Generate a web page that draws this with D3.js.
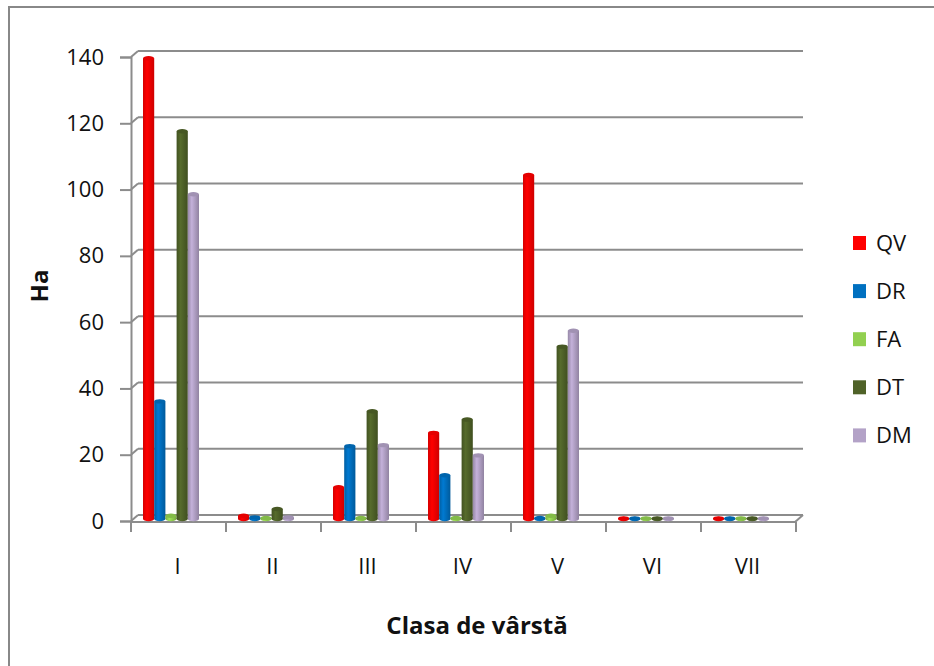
<!DOCTYPE html>
<html>
<head>
<meta charset="utf-8">
<script src="https://cdn.jsdelivr.net/npm/d3@7"></script>
<style>
  body { margin: 0; background: #fff; }
  text { font-family: "Open Sans", Carlito, Lato, sans-serif; fill: #111; }
</style>
</head>
<body>
<div id="chart"></div>
<script>
// data
var categories = ["I", "II", "III", "IV", "V", "VI", "VII"];
var seriesNames = ["QV", "DR", "FA", "DT", "DM"];
var QV = [139, 1, 9.6, 26, 103.8, 0.2, 0.2];
var DR = [35.5, 0.5, 22, 13.2, 0.3, 0.2, 0.2];
var FA = [1, 0.3, 0.3, 0.3, 1, 0.2, 0.2];
var DT = [117, 3, 32.5, 30, 52, 0.2, 0.2];
var DM = [98, 0.5, 22.3, 19.2, 56.8, 0.2, 0.2];
var yTicks = [0, 20, 40, 60, 80, 100, 120, 140];
var colors = ["#ff0000", "#0070c0", "#92d050", "#4f6228", "#b3a2c7"];

var series = [QV, DR, FA, DT, DM];

var width = 934, height = 666;
var dx = 8, dy = -6; // depth offset of the back wall

var svg = d3.select("#chart").append("svg")
    .attr("width", width)
    .attr("height", height);

// outer frame (only left + top visible)
svg.append("path")
    .attr("d", "M9,666 L9,7 L934,7")
    .attr("fill", "none")
    .attr("stroke", "#888")
    .attr("stroke-width", 2);

var x = d3.scaleBand()
    .domain(categories)
    .range([130, 795])
    .padding(0);

var y = d3.scaleLinear()
    .domain([0, 140])
    .range([521, 57]);

// gradients for the cylinders
var defs = svg.append("defs");
colors.forEach(function (c, i) {
  var g = defs.append("linearGradient")
      .attr("id", "grad" + i)
      .attr("x1", "0%").attr("x2", "100%")
      .attr("y1", "0%").attr("y2", "0%");
  g.append("stop").attr("offset", "0%").attr("stop-color", d3.color(c).darker(0.5));
  g.append("stop").attr("offset", "35%").attr("stop-color", d3.color(c).brighter(0.25));
  g.append("stop").attr("offset", "100%").attr("stop-color", d3.color(c).darker(0.6));
});

var grid = svg.append("g");

// back gridlines with depth diagonals
yTicks.forEach(function (t) {
  grid.append("line")
      .attr("x1", x.range()[0] + dx).attr("x2", x.range()[1] + dx)
      .attr("y1", y(t) + dy).attr("y2", y(t) + dy)
      .attr("stroke", "#8c8c8c").attr("stroke-width", 2);
  grid.append("line")
      .attr("x1", x.range()[0] + 1).attr("x2", x.range()[0] + dx)
      .attr("y1", y(t)).attr("y2", y(t) + dy)
      .attr("stroke", "#8c8c8c").attr("stroke-width", 2);
});

// floor front edge + right diagonal
grid.append("line")
    .attr("x1", x.range()[0]).attr("x2", x.range()[1])
    .attr("y1", y(0) + 1).attr("y2", y(0) + 1)
    .attr("stroke", "#8c8c8c").attr("stroke-width", 2);
grid.append("line")
    .attr("x1", x.range()[1]).attr("x2", x.range()[1] + dx)
    .attr("y1", y(0) + 1).attr("y2", y(0) + dy)
    .attr("stroke", "#8c8c8c").attr("stroke-width", 2);

// left axis
var yAxis = svg.append("g")
    .attr("transform", "translate(131,0)")
    .call(d3.axisLeft(y).tickValues(yTicks).tickSize(11).tickPadding(16));
yAxis.select(".domain").attr("stroke", "#8c8c8c").attr("stroke-width", 2);
yAxis.selectAll(".tick line").attr("stroke", "#8c8c8c").attr("stroke-width", 2);
yAxis.selectAll(".tick text")
    .style("font-size", "22px")
    .attr("fill", "#111")
    .style("font-family", "'Open Sans', Carlito, Lato, sans-serif");

// bottom ticks
var xAxis = svg.append("g")
    .attr("transform", "translate(0," + (y(0) + 1) + ")");
d3.range(categories.length + 1).forEach(function (i) {
  var xx = x.range()[0] + 1 + i * x.bandwidth();
  xAxis.append("line")
      .attr("x1", xx).attr("x2", xx)
      .attr("y1", 0).attr("y2", 10)
      .attr("stroke", "#8c8c8c").attr("stroke-width", 2);
});
xAxis.selectAll(".lbl")
    .data(categories)
    .enter().append("text")
    .attr("class", "lbl")
    .attr("x", function (d) { return x(d) + x.bandwidth() / 2; })
    .attr("y", 52)
    .attr("text-anchor", "middle")
    .style("font-size", "22px")
    .text(function (d) { return d; });

// bars (cylinders) sitting in the middle of the floor depth
var barW = 11.2;
var barOff = 13;
var ry = 2.2;
var yb = function (v) { return y(v) - 2; };

series.forEach(function (vals, s) {
  var g = svg.append("g");
  var data = categories.map(function (c, i) { return { cat: c, v: vals[i] }; });
  g.selectAll("rect")
      .data(data)
      .enter().append("rect")
      .attr("x", function (d) { return x(d.cat) + barOff + s * barW; })
      .attr("y", function (d) { return yb(d.v); })
      .attr("width", barW)
      .attr("height", function (d) { return yb(0) - yb(d.v); })
      .attr("fill", "url(#grad" + s + ")");
  g.selectAll("ellipse.bot")
      .data(data)
      .enter().append("ellipse")
      .attr("class", "bot")
      .attr("cx", function (d) { return x(d.cat) + barOff + s * barW + barW / 2; })
      .attr("cy", yb(0))
      .attr("rx", barW / 2)
      .attr("ry", ry)
      .attr("fill", "url(#grad" + s + ")");
  g.selectAll("ellipse.top")
      .data(data)
      .enter().append("ellipse")
      .attr("class", "top")
      .attr("cx", function (d) { return x(d.cat) + barOff + s * barW + barW / 2; })
      .attr("cy", function (d) { return yb(d.v); })
      .attr("rx", barW / 2)
      .attr("ry", ry)
      .attr("fill", d3.color(colors[s]).darker(0.3));
});

// axis titles
svg.append("text")
    .attr("x", 477)
    .attr("y", 634)
    .attr("text-anchor", "middle")
    .style("font-size", "24px")
    .style("font-weight", "bold")
    .text("Clasa de vârstă");

svg.append("text")
    .attr("transform", "translate(48,286) rotate(-90)")
    .attr("text-anchor", "middle")
    .style("font-size", "24px")
    .style("font-weight", "bold")
    .text("Ha");

// legend
var legend = svg.append("g");
seriesNames.forEach(function (n, i) {
  var ly = 243 + i * 48.1;
  legend.append("rect")
      .attr("x", 853).attr("y", ly - 7)
      .attr("width", 13).attr("height", 14)
      .attr("fill", colors[i]);
  legend.append("text")
      .attr("x", 876).attr("y", ly)
      .attr("dy", "0.35em")
      .style("font-size", "22px")
      .text(n);
});
</script>
</body>
</html>
